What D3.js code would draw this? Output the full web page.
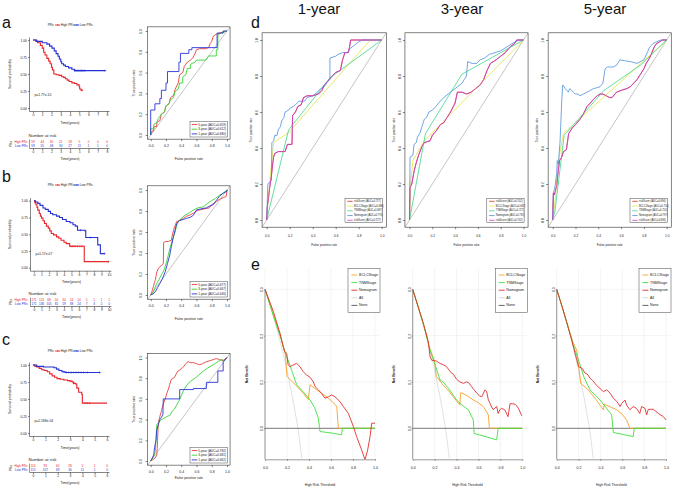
<!DOCTYPE html>
<html><head><meta charset="utf-8"><title>chart</title>
<script src="https://cdn.jsdelivr.net/npm/d3@7/dist/d3.min.js"></script>
<style>html,body{margin:0;padding:0;background:#fff;}svg{display:block;}</style>
</head><body>
<svg id="chart" width="676" height="491" viewBox="0 0 676 491"></svg>
<script>
// ================= DATA =================
const kmYTicks=[0,0.25,0.5,0.75,1];
const rocTicks=[0,0.2,0.4,0.6,0.8,1];
const dcaXTicks=[0,0.2,0.4,0.6,0.8,1];
const dcaYTicks=[0,0.1,0.2,0.3];
const strataTitle="PRs";
const groupLabels=["High PRs","Low PRs"];
const pValues=["p=1.77e-10","p=5.17e-07","p=2.188e-04"];

// Kaplan-Meier curves [time, survival]
const kmA_high=[[0,1],[0.3,0.98],[0.5,0.96],[0.8,0.92],[1,0.88],[1.15,0.82],[1.3,0.78],[1.5,0.73],[1.7,0.69],[1.85,0.65],[2.0,0.6],[2.1,0.56],[2.25,0.5],[2.5,0.49],[2.8,0.48],[3.1,0.46],[3.3,0.45],[3.5,0.43],[3.7,0.41],[3.9,0.39],[4.2,0.37],[4.5,0.36],[4.75,0.34],[5.0,0.31],[5.05,0.28],[5.2,0.26],[5.4,0.26]];
const kmA_low=[[0,1],[0.4,0.98],[1,0.96],[1.5,0.94],[1.8,0.91],[2.05,0.88],[2.3,0.84],[2.5,0.8],[2.7,0.76],[2.85,0.72],[3.0,0.68],[3.1,0.65],[3.3,0.63],[3.5,0.61],[3.85,0.59],[4.2,0.57],[4.5,0.55],[7.8,0.55]];
const kmA_highCens=[5.3];
const kmA_lowCens=[4.5,4.65,4.8,4.95,5.1,5.25,5.4,5.6,7.8];
const kmB_high=[[0,1],[0.1,0.97],[0.25,0.94],[0.4,0.9],[0.5,0.86],[0.7,0.81],[0.85,0.77],[1,0.74],[1.2,0.7],[1.4,0.66],[1.65,0.62],[1.9,0.59],[2.1,0.55],[2.3,0.51],[2.6,0.49],[3.0,0.46],[3.3,0.44],[3.6,0.41],[4.0,0.38],[4.3,0.36],[4.75,0.32],[6.6,0.32],[6.7,0.09],[10,0.09]];
const kmB_low=[[0,1],[0.2,0.98],[0.5,0.96],[0.8,0.93],[1.2,0.89],[1.5,0.87],[1.9,0.84],[2.2,0.81],[2.5,0.79],[3.0,0.77],[3.4,0.75],[3.8,0.72],[4.3,0.69],[4.8,0.67],[5.2,0.64],[5.5,0.62],[5.8,0.56],[6.8,0.55],[6.9,0.45],[8.3,0.45],[8.5,0.34],[8.85,0.21],[9.4,0.21]];
const kmB_highCens=[4.9,5.1,5.3,5.5,5.8,6.1,6.4,9.9];
const kmB_lowCens=[6.2,7.5,9.4];
const kmC_high=[[0,1],[0.15,0.98],[0.3,0.97],[0.5,0.95],[0.7,0.93],[0.9,0.92],[1.15,0.9],[1.35,0.87],[1.55,0.84],[1.75,0.82],[1.95,0.8],[2.2,0.79],[2.5,0.78],[2.8,0.77],[3.0,0.76],[3.2,0.75],[3.3,0.73],[3.45,0.72],[3.55,0.66],[3.7,0.6],[3.95,0.57],[4.0,0.44],[6,0.44]];
const kmC_low=[[0,1],[0.3,0.98],[0.85,0.97],[1.7,0.96],[1.9,0.94],[2.1,0.92],[2.35,0.9],[2.6,0.89],[5.45,0.89]];
const kmC_highCens=[3.1,3.3,4.2,4.4,4.6];
const kmC_lowCens=[2.5,2.7,2.9,3.1,3.3,3.5,3.7,3.9,4.1,4.4,5.4];

// Numbers at risk
const riskA_high=[59,44,30,21,18,5,0,0,0];
const riskA_low=[59,55,48,34,27,11,1,1,0];
const riskB_high=[171,113,68,50,34,24,14,5,1,1,1];
const riskB_low=[171,136,105,82,59,38,24,7,3,2,0];
const riskC_high=[114,93,60,28,5,1,0];
const riskC_low=[115,107,69,30,11,1,0];

// time-dependent ROC (a-c) [FPR, TPR]
const rocYears=["5-year","3-year","1-year"];
const rocA_auc=["0.659","0.612","0.680"];
const rocB_auc=["0.677","0.667","0.646"];
const rocC_auc=["0.782","0.681","0.662"];
const rocA_5yr=[[0,0],[0.02,0.04],[0.04,0.04],[0.04,0.08],[0.08,0.08],[0.08,0.12],[0.12,0.14],[0.14,0.2],[0.18,0.22],[0.2,0.28],[0.24,0.3],[0.26,0.36],[0.3,0.38],[0.32,0.44],[0.36,0.5],[0.38,0.58],[0.42,0.6],[0.44,0.66],[0.48,0.7],[0.52,0.72],[0.55,0.74],[0.58,0.78],[0.6,0.82],[0.64,0.83],[0.72,0.83],[0.76,0.84],[0.78,0.88],[0.8,0.9],[0.82,0.95],[0.86,0.97],[0.9,0.98],[0.95,0.99],[1,1]];
const rocA_3yr=[[0,0],[0,0.06],[0.04,0.06],[0.04,0.1],[0.08,0.12],[0.1,0.16],[0.14,0.2],[0.18,0.22],[0.2,0.28],[0.24,0.3],[0.26,0.34],[0.3,0.36],[0.32,0.42],[0.36,0.44],[0.38,0.5],[0.42,0.5],[0.42,0.56],[0.46,0.58],[0.48,0.64],[0.52,0.64],[0.52,0.68],[0.58,0.7],[0.6,0.72],[0.72,0.72],[0.76,0.76],[0.86,0.76],[0.86,0.82],[0.88,0.82],[0.88,0.96],[0.92,0.98],[1,1]];
const rocA_1yr=[[0,0],[0,0.24],[0.055,0.24],[0.055,0.3],[0.12,0.3],[0.12,0.35],[0.14,0.35],[0.14,0.43],[0.2,0.43],[0.2,0.5],[0.22,0.5],[0.22,0.61],[0.37,0.61],[0.37,0.7],[0.39,0.7],[0.39,0.785],[0.5,0.785],[0.5,0.82],[0.54,0.82],[0.54,0.84],[0.87,0.84],[0.87,0.98],[0.95,0.98],[0.95,1],[1,1]];
const rocB_5yr=[[0,0],[0.02,0.04],[0.035,0.08],[0.05,0.12],[0.06,0.14],[0.07,0.18],[0.08,0.22],[0.1,0.25],[0.12,0.27],[0.14,0.28],[0.165,0.3],[0.17,0.5],[0.2,0.51],[0.23,0.51],[0.27,0.52],[0.28,0.56],[0.3,0.62],[0.32,0.66],[0.34,0.7],[0.38,0.71],[0.43,0.73],[0.47,0.75],[0.51,0.76],[0.56,0.78],[0.6,0.8],[0.64,0.81],[0.7,0.82],[0.77,0.83],[0.8,0.86],[0.86,0.89],[0.9,0.91],[0.93,0.92],[0.96,0.93],[0.99,0.94],[1,1]];
const rocB_3yr=[[0,0],[0.03,0.02],[0.05,0.06],[0.08,0.11],[0.11,0.15],[0.14,0.19],[0.17,0.23],[0.19,0.27],[0.21,0.32],[0.23,0.38],[0.25,0.44],[0.27,0.49],[0.29,0.54],[0.32,0.6],[0.34,0.66],[0.36,0.7],[0.4,0.73],[0.45,0.76],[0.5,0.78],[0.56,0.81],[0.62,0.83],[0.69,0.84],[0.74,0.87],[0.8,0.9],[0.85,0.92],[0.9,0.95],[0.95,0.97],[1,1]];
const rocB_1yr=[[0,0],[0.03,0.01],[0.06,0.03],[0.09,0.07],[0.12,0.11],[0.15,0.15],[0.19,0.22],[0.22,0.3],[0.25,0.38],[0.27,0.46],[0.3,0.56],[0.32,0.62],[0.34,0.68],[0.38,0.71],[0.43,0.72],[0.47,0.73],[0.52,0.74],[0.56,0.76],[0.6,0.81],[0.66,0.82],[0.73,0.83],[0.78,0.85],[0.82,0.86],[0.86,0.9],[0.9,0.94],[0.95,0.97],[1,0.99],[1,1]];
const rocC_5yr=[[0,0],[0.04,0.02],[0.06,0.03],[0.08,0.06],[0.085,0.12],[0.09,0.2],[0.095,0.3],[0.1,0.36],[0.11,0.4],[0.12,0.43],[0.14,0.48],[0.16,0.54],[0.18,0.58],[0.19,0.6],[0.21,0.65],[0.23,0.69],[0.25,0.74],[0.27,0.79],[0.3,0.8],[0.32,0.82],[0.34,0.85],[0.36,0.87],[0.4,0.89],[0.43,0.91],[0.46,0.94],[0.49,0.96],[0.52,0.95],[0.56,0.95],[0.6,0.94],[0.64,0.93],[0.68,0.94],[0.73,0.96],[0.78,0.97],[0.82,0.98],[0.86,0.99],[0.9,0.98],[0.95,0.97],[1,1]];
const rocC_3yr=[[0,0],[0.03,0.03],[0.06,0.09],[0.08,0.35],[0.11,0.38],[0.14,0.4],[0.17,0.41],[0.21,0.43],[0.25,0.44],[0.28,0.48],[0.31,0.5],[0.34,0.54],[0.37,0.58],[0.4,0.63],[0.43,0.68],[0.47,0.73],[0.52,0.77],[0.58,0.8],[0.63,0.83],[0.69,0.87],[0.75,0.9],[0.82,0.93],[0.88,0.96],[0.93,0.98],[0.97,0.97],[1,1]];
const rocC_1yr=[[0,0],[0.02,0.03],[0.04,0.06],[0.05,0.13],[0.07,0.2],[0.08,0.3],[0.1,0.35],[0.12,0.4],[0.14,0.42],[0.16,0.45],[0.165,0.6],[0.38,0.6],[0.38,0.69],[0.56,0.69],[0.56,0.7],[0.73,0.7],[0.73,0.76],[0.88,0.76],[0.88,0.87],[0.95,0.87],[0.95,0.96],[1,1]];

// panel d: ROC by model
const dYearTitles=["1-year","3-year","5-year"];
const dModels=["riskScore","BCLCStage","TNMStage","Nomogram","riskScore"];
const dAuc1=["0.727","0.686","0.697","0.776","0.727"];
const dAuc2=["0.702","0.667","0.727","0.792","0.702"];
const dAuc3=["0.696","0.710","0.714","0.797","0.696"];
const rocD1_bclc=[[0,0],[0.01,0.1],[0.06,0.43],[0.19,0.485],[0.9,1],[1,1]];
const rocD1_tnm=[[0,0],[0.015,0.04],[0.19,0.5],[0.55,0.79],[1,1]];
const rocD1_nomo=[[0,0],[0.01,0.2],[0.04,0.22],[0.045,0.43],[0.06,0.44],[0.07,0.47],[0.09,0.47],[0.1,0.5],[0.12,0.52],[0.13,0.55],[0.15,0.57],[0.16,0.6],[0.19,0.61],[0.2,0.62],[0.23,0.63],[0.25,0.64],[0.28,0.66],[0.33,0.66],[0.35,0.68],[0.4,0.69],[0.44,0.71],[0.47,0.73],[0.5,0.74],[0.53,0.77],[0.55,0.78],[0.55,0.9],[0.6,0.91],[0.62,0.92],[0.66,0.93],[0.7,0.93],[0.72,0.95],[0.76,0.97],[0.8,0.99],[0.83,1],[1,1]];
const rocD1_risk=[[0,0],[0.005,0.07],[0.015,0.12],[0.03,0.2],[0.04,0.24],[0.05,0.3],[0.06,0.35],[0.07,0.37],[0.1,0.38],[0.16,0.38],[0.17,0.4],[0.18,0.42],[0.22,0.42],[0.225,0.58],[0.25,0.6],[0.27,0.63],[0.3,0.64],[0.32,0.68],[0.35,0.69],[0.4,0.69],[0.45,0.7],[0.48,0.72],[0.5,0.75],[0.53,0.77],[0.57,0.8],[0.6,0.82],[0.64,0.83],[0.66,0.89],[0.68,0.93],[0.71,0.93],[0.72,0.96],[0.73,1],[1,1]];
const rocD2_bclc=[[0,0],[0.01,0.2],[0.03,0.33],[0.13,0.44],[1,1]];
const rocD2_tnm=[[0,0],[0.14,0.48],[0.46,0.81],[1,1]];
const rocD2_nomo=[[0,0],[0.005,0.35],[0.03,0.36],[0.04,0.42],[0.06,0.43],[0.07,0.46],[0.09,0.48],[0.11,0.52],[0.13,0.56],[0.15,0.57],[0.17,0.6],[0.2,0.61],[0.23,0.63],[0.27,0.66],[0.3,0.68],[0.34,0.7],[0.38,0.72],[0.42,0.74],[0.46,0.76],[0.48,0.78],[0.5,0.8],[0.51,0.88],[0.55,0.87],[0.59,0.87],[0.62,0.89],[0.66,0.9],[0.7,0.92],[0.75,0.93],[0.8,0.94],[0.85,0.96],[0.9,0.98],[0.96,1],[1,1]];
const rocD2_risk=[[0,0],[0.005,0.18],[0.02,0.2],[0.04,0.27],[0.06,0.32],[0.08,0.36],[0.11,0.41],[0.13,0.43],[0.18,0.44],[0.2,0.47],[0.24,0.5],[0.27,0.53],[0.3,0.54],[0.33,0.57],[0.36,0.6],[0.4,0.65],[0.42,0.71],[0.46,0.71],[0.5,0.7],[0.54,0.71],[0.58,0.73],[0.62,0.75],[0.65,0.78],[0.68,0.83],[0.71,0.87],[0.76,0.89],[0.8,0.91],[0.84,0.93],[0.88,0.96],[0.92,0.98],[0.94,1],[1,1]];
const rocD3_bclc=[[0,0],[0.02,0.1],[0.05,0.33],[0.094,0.48],[1,1]];
const rocD3_tnm=[[0,0],[0.02,0.05],[0.1,0.47],[0.45,0.72],[0.77,0.86],[1,1]];
const rocD3_nomo=[[0,0],[0.006,0.15],[0.02,0.185],[0.035,0.26],[0.04,0.33],[0.05,0.31],[0.06,0.4],[0.064,0.43],[0.07,0.52],[0.08,0.67],[0.088,0.75],[0.1,0.74],[0.11,0.73],[0.125,0.72],[0.137,0.71],[0.15,0.73],[0.167,0.72],[0.18,0.71],[0.196,0.7],[0.22,0.7],[0.24,0.69],[0.27,0.7],[0.3,0.71],[0.33,0.72],[0.357,0.73],[0.39,0.735],[0.415,0.74],[0.44,0.76],[0.46,0.84],[0.48,0.85],[0.5,0.85],[0.53,0.85],[0.56,0.86],[0.59,0.89],[0.63,0.885],[0.68,0.88],[0.74,0.87],[0.8,0.89],[0.83,0.93],[0.85,0.96],[0.88,0.98],[0.91,0.99],[0.95,1],[1,1]];
const rocD3_risk=[[0,0],[0.006,0.15],[0.015,0.14],[0.035,0.19],[0.05,0.28],[0.06,0.33],[0.08,0.35],[0.094,0.38],[0.12,0.39],[0.14,0.48],[0.17,0.51],[0.2,0.53],[0.24,0.56],[0.27,0.59],[0.3,0.63],[0.33,0.65],[0.357,0.67],[0.39,0.69],[0.415,0.7],[0.44,0.7],[0.47,0.69],[0.5,0.68],[0.52,0.68],[0.56,0.71],[0.6,0.72],[0.65,0.73],[0.68,0.74],[0.71,0.76],[0.74,0.78],[0.77,0.81],[0.8,0.84],[0.82,0.87],[0.85,0.9],[0.87,0.93],[0.89,0.96],[0.91,0.98],[0.94,0.99],[0.96,1],[1,1]];

// panel e: decision curves [threshold, net benefit]
const dcaModels=["BCLCStage","TNMStage","Nomogram","All","None"];
const dcaAll=[[0,0.3],[0.05,0.263],[0.1,0.222],[0.15,0.176],[0.2,0.125],[0.25,0.067],[0.3,0],[0.335,-0.065]];
const dcaNone=[[0,0],[1,0]];
const dcaE1_bclc=[[0,0.3],[0.05,0.263],[0.09,0.235],[0.136,0.205],[0.16,0.18],[0.185,0.16],[0.2,0.112],[0.25,0.1],[0.3,0.088],[0.35,0.075],[0.394,0.062],[0.41,0.094],[0.47,0.083],[0.52,0.075],[0.56,0.068],[0.61,0.058],[0.652,0.047],[0.667,0],[1,0]];
const dcaE1_tnm=[[0,0.3],[0.05,0.263],[0.1,0.225],[0.15,0.19],[0.18,0.165],[0.21,0.147],[0.25,0.12],[0.288,0.094],[0.35,0.078],[0.41,0.061],[0.45,0.045],[0.485,0.022],[0.5,-0.007],[0.6,-0.01],[0.697,-0.014],[0.703,0],[1,0]];
const dcaE1_nomo=[[0,0.3],[0.076,0.252],[0.136,0.205],[0.167,0.176],[0.18,0.165],[0.197,0.162],[0.21,0.137],[0.227,0.133],[0.258,0.137],[0.288,0.14],[0.318,0.133],[0.348,0.122],[0.379,0.115],[0.41,0.11],[0.44,0.1],[0.455,0.09],[0.485,0.083],[0.515,0.075],[0.545,0.065],[0.576,0.068],[0.606,0.072],[0.636,0.068],[0.68,0.058],[0.712,0.047],[0.758,0.032],[0.803,0.004],[0.833,-0.018],[0.879,-0.047],[0.909,-0.068],[0.933,-0.047],[0.955,-0.018],[0.97,0.011],[1,0.011]];
const dcaE2_bclc=[[0,0.3],[0.05,0.262],[0.1,0.222],[0.127,0.201],[0.15,0.176],[0.2,0.145],[0.215,0.112],[0.279,0.093],[0.33,0.08],[0.37,0.068],[0.43,0.05],[0.438,0.077],[0.5,0.07],[0.553,0.061],[0.6,0.055],[0.644,0.047],[0.69,0.029],[0.7,0],[1,0]];
const dcaE2_tnm=[[0,0.3],[0.05,0.262],[0.1,0.222],[0.158,0.169],[0.2,0.14],[0.25,0.104],[0.279,0.1],[0.33,0.085],[0.4,0.061],[0.45,0.05],[0.508,0.04],[0.553,0.018],[0.56,-0.011],[0.65,-0.017],[0.766,-0.025],[0.78,0],[1,0]];
const dcaE2_nomo=[[0,0.3],[0.05,0.262],[0.097,0.227],[0.142,0.187],[0.158,0.155],[0.173,0.147],[0.2,0.146],[0.218,0.145],[0.25,0.14],[0.28,0.137],[0.3,0.135],[0.325,0.128],[0.35,0.12],[0.37,0.117],[0.4,0.106],[0.43,0.1],[0.462,0.097],[0.49,0.1],[0.508,0.099],[0.538,0.09],[0.56,0.083],[0.584,0.076],[0.61,0.07],[0.63,0.068],[0.66,0.083],[0.675,0.079],[0.69,0.062],[0.705,0.054],[0.72,0.046],[0.736,0.04],[0.75,0.044],[0.766,0.047],[0.78,0.032],[0.795,0.04],[0.81,0.043],[0.84,0.04],[0.86,0.03],[0.87,0.025],[0.888,0.053],[0.91,0.053],[0.934,0.052],[0.95,0.048],[0.965,0.043],[0.98,0.035],[0.995,0.027]];
const dcaE3_bclc=[[0,0.3],[0.05,0.262],[0.1,0.222],[0.15,0.185],[0.183,0.169],[0.22,0.097],[0.29,0.083],[0.35,0.065],[0.427,0.04],[0.436,0.052],[0.5,0.045],[0.55,0.04],[0.6,0.03],[0.64,0.018],[0.67,0],[1,0]];
const dcaE3_tnm=[[0,0.3],[0.05,0.262],[0.1,0.222],[0.15,0.18],[0.2,0.147],[0.25,0.11],[0.305,0.083],[0.32,0.079],[0.36,0.07],[0.396,0.061],[0.45,0.045],[0.503,0.029],[0.518,-0.009],[0.6,-0.013],[0.7,-0.018],[0.71,0],[1,0]];
const dcaE3_nomo=[[0,0.3],[0.05,0.262],[0.09,0.23],[0.137,0.191],[0.168,0.162],[0.2,0.133],[0.23,0.13],[0.26,0.119],[0.28,0.117],[0.305,0.108],[0.33,0.103],[0.35,0.097],[0.375,0.09],[0.396,0.086],[0.427,0.079],[0.457,0.083],[0.488,0.076],[0.518,0.065],[0.55,0.058],[0.58,0.047],[0.595,0.054],[0.625,0.061],[0.64,0.05],[0.67,0.04],[0.7,0.047],[0.73,0.043],[0.76,0.032],[0.777,0.047],[0.808,0.043],[0.823,0.029],[0.838,0.041],[0.884,0.041],[0.93,0.032],[0.976,0.025],[1,0.018]];

// ================= DRAWING =================
const FAM='"Liberation Sans", Arial, Helvetica, sans-serif';
const svg=d3.select("#chart");
svg.append("rect").attr("width",676).attr("height",491).attr("fill","#fff");
let clipN=0;
const KM_RED="#e8262a", KM_BLUE="#2531d2";
const R_RED="#e8413c", R_GREEN="#38d438", R_BLUE="#2a35d6";
const D_COLS=["#d7302c","#e4e43c","#3ed58c","#4b8fdc","#cc3ccc"];
const E_COLS=["#f4a32a","#3fe03f","#e22f2f","#d4d4d4","#555555"];

function tx(g,x,y,s,fs,o={}){
  const t=g.append("text").attr("x",x).attr("y",y).attr("font-size",fs).attr("font-family",FAM)
    .attr("fill",o.fill||"#1a1a1a").attr("text-anchor",o.anchor||"start")
    .attr("dominant-baseline",o.base||"central").text(s);
  if(o.rot!==undefined) t.attr("transform",`rotate(${o.rot},${x},${y})`);
  if(o.bold) t.attr("font-weight","bold");
  return t;
}
function styleAxis(a,fs,col){
  a.attr("font-size",fs).attr("font-family",FAM);
  a.selectAll(".domain").attr("stroke",col||"#333").attr("stroke-width",0.6);
  a.selectAll(".tick line").attr("stroke",col||"#333").attr("stroke-width",0.6);
  a.selectAll(".tick text").attr("fill","#222");
}
function survAt(d,t){let v=1;for(const p of d){if(p[0]<=t)v=p[1];}return v;}

// ---------- Kaplan-Meier + risk table ----------
function drawKM(c){
  const g=svg.append("g");
  const x=d3.scaleLinear().domain([0,c.tmax]).range([c.x0,c.x1]);
  const y=d3.scaleLinear().domain([0,1]).range([c.y0,c.y1]);
  const axL=c.x0-3.5, axB=c.y0+3.5;
  const ya=g.append("g").attr("transform",`translate(${axL},0)`)
    .call(d3.axisLeft(y).tickValues(kmYTicks).tickFormat(d3.format(".2f")).tickSize(1.5).tickPadding(1).tickSizeOuter(0));
  styleAxis(ya,3.4); ya.select(".domain").attr("d",`M0,${c.y1-2.5}V${axB}`);
  const xt=d3.range(0,c.tmax+1);
  const xa=g.append("g").attr("transform",`translate(0,${axB})`)
    .call(d3.axisBottom(x).tickValues(xt).tickFormat(d3.format("d")).tickSize(1.5).tickPadding(1).tickSizeOuter(0));
  styleAxis(xa,3.4); xa.select(".domain").attr("d",`M${axL},0H${c.x1+2.5}`);
  tx(g,(c.x0+c.x1)/2,axB+11,"Time(years)",3.6,{anchor:"middle"});
  tx(g,10,(c.y0+c.y1)/2,"Survival probability",3.6,{anchor:"middle",rot:-90});
  const line=d3.line().x(d=>x(d[0])).y(d=>y(d[1])).curve(d3.curveStepAfter);
  const ser=[{d:c.high,cens:c.highC,col:KM_RED},{d:c.low,cens:c.lowC,col:KM_BLUE}];
  ser.forEach(s=>{
    g.append("path").attr("d",line(s.d)).attr("fill","none").attr("stroke",s.col).attr("stroke-width",1.1);
    s.cens.forEach(t=>{
      const px=x(t),py=y(survAt(s.d,t));
      g.append("path").attr("d",`M${px-1.1},${py}H${px+1.1}M${px},${py-1.1}V${py+1.1}`).attr("stroke",s.col).attr("stroke-width",0.5);
    });
  });
  tx(g,x(0)+1.5,c.pY,c.p,3.3);
  // legend
  const ly=c.legY;
  tx(g,47.7,ly,strataTitle,3.2);
  [[55,60.8,KM_RED,groupLabels[0]],[74,79.8,KM_BLUE,groupLabels[1]]].forEach(([a,b,col,lab])=>{
    g.append("line").attr("x1",a).attr("x2",b-0.6).attr("y1",ly).attr("y2",ly).attr("stroke",col).attr("stroke-width",0.9);
    g.append("path").attr("d",`M${(a+b)/2-1},${ly}H${(a+b)/2+0.8}M${(a+b)/2-0.1},${ly-1}V${ly+1}`).attr("stroke",col).attr("stroke-width",0.4);
    tx(g,b,ly,lab,3.2);
  });
  // risk table
  const n=c.narY;
  tx(g,28.5,n,"Number at risk",4.3);
  const rows=[[c.riskH,n+7,KM_RED,groupLabels[0]],[c.riskL,n+10.8,KM_BLUE,groupLabels[1]]];
  rows.forEach(([arr,ry,col,lab])=>{
    tx(g,27.5,ry,lab,3.1,{anchor:"end",fill:col});
    arr.forEach((v,i)=>tx(g,x(i),ry,String(v),3.1,{anchor:"middle",fill:col}));
  });
  g.append("line").attr("x1",axL).attr("x2",axL).attr("y1",n+4.5).attr("y2",n+13.5).attr("stroke","#333").attr("stroke-width",0.5);
  const ta=g.append("g").attr("transform",`translate(0,${n+13.5})`)
    .call(d3.axisBottom(x).tickValues(xt).tickFormat(d3.format("d")).tickSize(1.5).tickPadding(1).tickSizeOuter(0));
  styleAxis(ta,3.3); ta.select(".domain").attr("d",`M${axL},0H${c.x1+2.5}`);
  tx(g,(c.x0+c.x1)/2,n+23.5,"Time(years)",3.6,{anchor:"middle"});
  tx(g,11,n+9,strataTitle,3.2,{anchor:"middle",rot:-90});
}

// ---------- generic ROC (base-R style) ----------
function drawROC(c){
  const g=svg.append("g");
  const x=d3.scaleLinear().domain([0,1]).range(c.xr);
  const y=d3.scaleLinear().domain([0,1]).range(c.yr);
  const bx0=x(-0.04),bx1=x(1.04),by0=y(-0.04),by1=y(1.04);
  const id="clip"+(clipN++);
  g.append("clipPath").attr("id",id).append("rect").attr("x",bx0).attr("y",by1).attr("width",bx1-bx0).attr("height",by0-by1);
  const pg=g.append("g").attr("clip-path",`url(#${id})`);
  pg.append("line").attr("x1",x(-0.04)).attr("y1",y(-0.04)).attr("x2",x(1.04)).attr("y2",y(1.04)).attr("stroke","#8a8a8a").attr("stroke-width",0.5);
  const line=d3.line().x(d=>x(d[0])).y(d=>y(d[1]));
  c.series.forEach(s=>pg.append("path").attr("d",line(s.d)).attr("fill","none").attr("stroke",s.col).attr("stroke-width",c.lw).attr("stroke-linejoin","round"));
  g.append("rect").attr("x",bx0).attr("y",by1).attr("width",bx1-bx0).attr("height",by0-by1).attr("fill","none").attr("stroke","#333").attr("stroke-width",0.6);
  const xa=g.append("g").attr("transform",`translate(0,${by0})`)
    .call(d3.axisBottom(x).tickValues(rocTicks).tickFormat(d3.format(".1f")).tickSize(c.tk).tickPadding(c.xpad).tickSizeOuter(0));
  styleAxis(xa,c.fs); xa.select(".domain").remove();
  const ya=g.append("g").attr("transform",`translate(${bx0},0)`)
    .call(d3.axisLeft(y).tickValues(rocTicks).tickFormat(d3.format(".1f")).tickSize(c.tk).tickSizeOuter(0));
  styleAxis(ya,c.fs); ya.select(".domain").remove();
  ya.selectAll(".tick text").attr("x",0).attr("dy",0).attr("text-anchor","middle")
    .attr("transform",`translate(${-(c.tk+c.ypad)},0) rotate(-90)`);
  tx(g,(bx0+bx1)/2,by0+c.xTitleOff,"False positive rate",c.fs,{anchor:"middle"});
  tx(g,bx0-c.yTitleOff,(c.yr[0]+c.yr[1])/2,"True positive rate",c.fs,{anchor:"middle",rot:-90});
  const L=c.leg, right=x(1)+L.dx, bottom=y(0)+L.dy, left=right-L.w, top=bottom-L.h;
  g.append("rect").attr("x",left).attr("y",top).attr("width",L.w).attr("height",L.h).attr("fill","#fff").attr("stroke","#333").attr("stroke-width",0.45);
  c.series.forEach((s,i)=>{
    const yy=top+L.first+i*L.step;
    g.append("line").attr("x1",left+L.s0).attr("x2",left+L.s1).attr("y1",yy).attr("y2",yy).attr("stroke",s.col).attr("stroke-width",c.lw);
    tx(g,left+L.t0,yy,s.label,L.fs);
  });
  return g;
}

// ---------- decision curve ----------
function drawDCA(c){
  const g=svg.append("g");
  const x=d3.scaleLinear().domain([0,1]).range([c.x0,c.x1]);
  const y=d3.scaleLinear().domain([0,0.3]).range([428.3,289.3]);
  const yb=459.3, yt=269, xr=x(1.04);
  dcaXTicks.forEach(v=>g.append("line").attr("x1",x(v)).attr("x2",x(v)).attr("y1",yt).attr("y2",yb).attr("stroke","#ececec").attr("stroke-width",0.6));
  [0.1,0.2,0.3].forEach(v=>g.append("line").attr("x1",c.x0).attr("x2",xr).attr("y1",y(v)).attr("y2",y(v)).attr("stroke","#ececec").attr("stroke-width",0.6));
  const id="clip"+(clipN++);
  g.append("clipPath").attr("id",id).append("rect").attr("x",c.x0).attr("y",yt).attr("width",xr-c.x0).attr("height",yb-yt);
  const pg=g.append("g").attr("clip-path",`url(#${id})`);
  const line=d3.line().x(d=>x(d[0])).y(d=>y(d[1]));
  const order=[[dcaAll,3,0.7],[dcaNone,4,0.8],[c.bclc,0,0.9],[c.tnm,1,0.9],[c.nomo,2,0.9]];
  order.forEach(([d,ci,w])=>pg.append("path").attr("d",line(d)).attr("fill","none").attr("stroke",E_COLS[ci]).attr("stroke-width",w).attr("stroke-linejoin","round"));
  const ya=g.append("g").attr("transform",`translate(${c.x0},0)`)
    .call(d3.axisLeft(y).tickValues(dcaYTicks).tickFormat(d3.format(".1f")).tickSize(1).tickSizeOuter(0));
  styleAxis(ya,3.6,"#555"); ya.select(".domain").attr("d",`M0,${y(0.3)}V${yb}`);
  ya.selectAll(".tick text").attr("x",0).attr("dy",0).attr("text-anchor","middle").attr("transform","translate(-2,0) rotate(-90)");
  const xa=g.append("g").attr("transform",`translate(0,${yb})`)
    .call(d3.axisBottom(x).tickValues(dcaXTicks).tickFormat(d3.format(".1f")).tickSize(1.5).tickPadding(6).tickSizeOuter(0));
  styleAxis(xa,3.6,"#555");
  tx(g,(c.x0+c.x1)/2,485,"High Risk Threshold",3.4,{anchor:"middle"});
  tx(g,c.x0-18.3,(y(0.3)+yb)/2,"Net Benefit",3.4,{anchor:"middle",rot:-90,bold:true});
  const right=c.x1+5, w=32, left=right-w, top=268.3, h=44.4;
  g.append("rect").attr("x",left).attr("y",top).attr("width",w).attr("height",h).attr("fill","#fff").attr("stroke","#444").attr("stroke-width",0.5);
  dcaModels.forEach((m,i)=>{
    const yy=top+6.7+i*7.6;
    g.append("line").attr("x1",left+3.4).attr("x2",left+9.4).attr("y1",yy).attr("y2",yy).attr("stroke",E_COLS[i]).attr("stroke-width",0.9);
    tx(g,left+11,yy,m,3.6);
  });
}

// ===== panel a-c =====
drawKM({x0:33,x1:107,tmax:8,y0:108,y1:40,legY:25,narY:135,pY:95,p:pValues[0],high:kmA_high,low:kmA_low,highC:kmA_highCens,lowC:kmA_lowCens,riskH:riskA_high,riskL:riskA_low});
drawKM({x0:34,x1:109,tmax:10,y0:267.7,y1:200.7,legY:185,narY:293,pY:253.5,p:pValues[1],high:kmB_high,low:kmB_low,highC:kmB_highCens,lowC:kmB_lowCens,riskH:riskB_high,riskL:riskB_low});
drawKM({x0:33,x1:107,tmax:6,y0:433,y1:365,legY:351,narY:459,pY:420.5,p:pValues[2],high:kmC_high,low:kmC_low,highC:kmC_highCens,lowC:kmC_lowCens,riskH:riskC_high,riskL:riskC_low});

const legABC={dx:0.3,dy:2,w:37.3,h:15.4,first:2.9,step:4.7,s0:1.7,s1:7.3,t0:8.3,fs:3.1};
function abcSeries(d5,d3_,d1,auc){
  return [{d:d5,col:R_RED,label:`${rocYears[0]} (AUC=${auc[0]})`},{d:d3_,col:R_GREEN,label:`${rocYears[1]} (AUC=${auc[1]})`},{d:d1,col:R_BLUE,label:`${rocYears[2]} (AUC=${auc[2]})`}];
}
drawROC({xr:[150.7,227],yr:[135,31],series:abcSeries(rocA_5yr,rocA_3yr,rocA_1yr,rocA_auc),lw:0.9,fs:3.5,tk:2,xpad:3.6,ypad:3.3,xTitleOff:20,yTitleOff:13.5,leg:legABC});
drawROC({xr:[150.7,227],yr:[295,190],series:abcSeries(rocB_5yr,rocB_3yr,rocB_1yr,rocB_auc),lw:0.9,fs:3.5,tk:2,xpad:3.6,ypad:3.3,xTitleOff:20,yTitleOff:13.5,leg:legABC});
drawROC({xr:[150.7,227],yr:[461,357.5],series:abcSeries(rocC_5yr,rocC_3yr,rocC_1yr,rocC_auc),lw:0.9,fs:3.5,tk:2,xpad:3.2,ypad:3.3,xTitleOff:13,yTitleOff:13.5,leg:legABC});

// ===== panel d =====
const legD={dx:0.6,dy:2.7,w:37.3,h:24.4,first:3,step:4.75,s0:2.3,s1:7.7,t0:9,fs:2.6};
function dSeries(risk,bclc,tnm,nomo,auc){
  const ds=[risk,bclc,tnm,nomo,risk];
  return ds.map((d,i)=>({d:d,col:D_COLS[i],label:`${dModels[i]} (AUC=${auc[i]})`}));
}
const dX=[[266.7,381.7],[409.5,523.5],[552.7,666.7]];
drawROC({xr:dX[0],yr:[220,40],series:dSeries(rocD1_risk,rocD1_bclc,rocD1_tnm,rocD1_nomo,dAuc1),lw:0.8,fs:3.2,tk:2,xpad:5.4,ypad:1.8,xTitleOff:18,yTitleOff:11,leg:legD});
drawROC({xr:dX[1],yr:[220,40],series:dSeries(rocD2_risk,rocD2_bclc,rocD2_tnm,rocD2_nomo,dAuc2),lw:0.8,fs:3.2,tk:2,xpad:5.4,ypad:1.8,xTitleOff:18,yTitleOff:11,leg:legD});
drawROC({xr:dX[2],yr:[220,40],series:dSeries(rocD3_risk,rocD3_bclc,rocD3_tnm,rocD3_nomo,dAuc3),lw:0.8,fs:3.2,tk:2,xpad:5.4,ypad:1.8,xTitleOff:18,yTitleOff:11,leg:legD});
const titleX=[319,462,605];
dYearTitles.forEach((t,i)=>tx(svg,titleX[i],13.5,t,15,{anchor:"middle",base:"alphabetic",fill:"#111"}));

// ===== panel e =====
drawDCA({x0:265,x1:375,bclc:dcaE1_bclc,tnm:dcaE1_tnm,nomo:dcaE1_nomo});
drawDCA({x0:412.7,x1:522.3,bclc:dcaE2_bclc,tnm:dcaE2_tnm,nomo:dcaE2_nomo});
drawDCA({x0:556.7,x1:666,bclc:dcaE3_bclc,tnm:dcaE3_tnm,nomo:dcaE3_nomo});

// panel letters
[["a",2,28],["b",2,182],["c",2,345],["d",251,28],["e",251,270]].forEach(([s,x,y])=>tx(svg,x,y,s,16,{base:"alphabetic",fill:"#111"}));
</script></body></html>
